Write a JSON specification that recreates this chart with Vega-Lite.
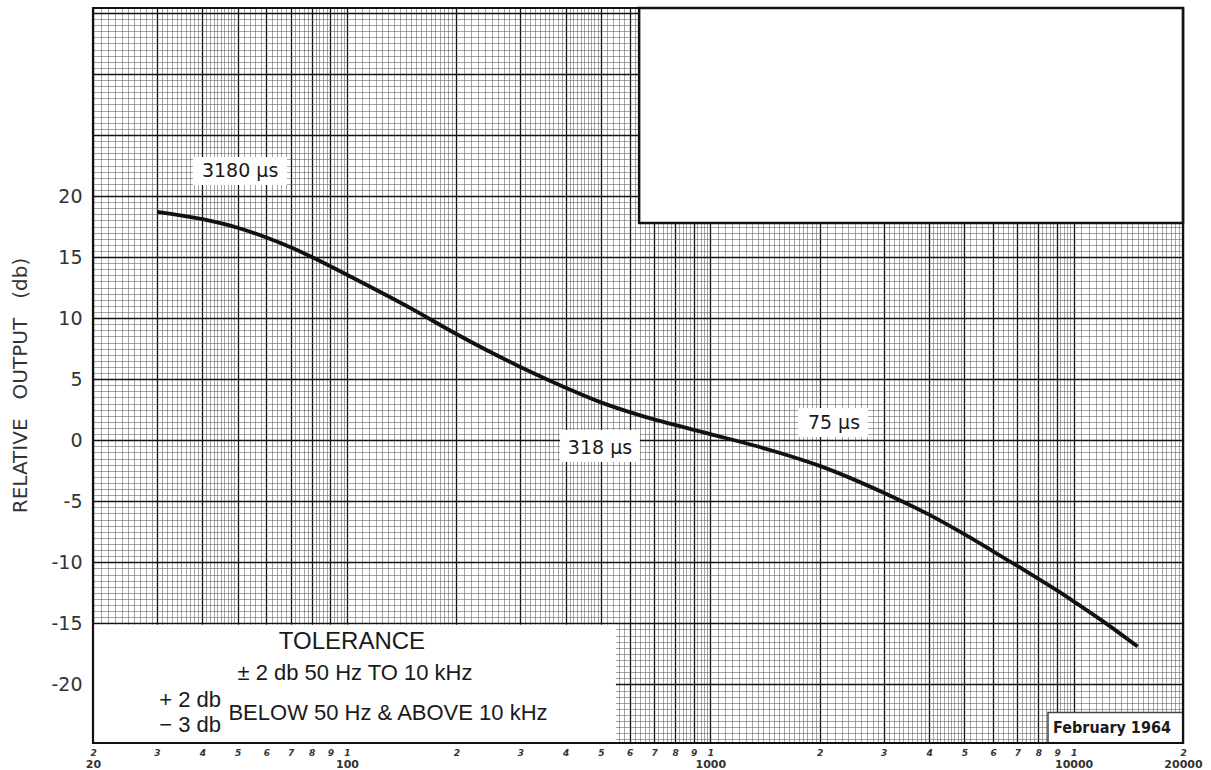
{
  "$schema": "https://vega.github.io/schema/vega-lite/v6.json",
  "width": 1090,
  "height": 735,
  "autosize": "none",
  "padding": {"left": 93, "top": 8, "right": 28, "bottom": 27},
  "background": "#ffffff",
  "config": {"view": {"stroke": null}},
  "datasets": {
    "curve": [
      {"f": 30, "db": 18.7}, {"f": 40, "db": 18.1}, {"f": 50, "db": 17.4}, {"f": 60, "db": 16.6},
      {"f": 70, "db": 15.8}, {"f": 80, "db": 15.0}, {"f": 90, "db": 14.25}, {"f": 100, "db": 13.55},
      {"f": 150, "db": 10.8}, {"f": 200, "db": 8.7}, {"f": 300, "db": 6.0}, {"f": 400, "db": 4.3},
      {"f": 500, "db": 3.1}, {"f": 600, "db": 2.3}, {"f": 700, "db": 1.7}, {"f": 800, "db": 1.25},
      {"f": 900, "db": 0.85}, {"f": 1000, "db": 0.5}, {"f": 1500, "db": -0.9}, {"f": 2000, "db": -2.1},
      {"f": 3000, "db": -4.3}, {"f": 4000, "db": -6.1}, {"f": 5000, "db": -7.7}, {"f": 6000, "db": -9.1},
      {"f": 7000, "db": -10.3}, {"f": 8000, "db": -11.35}, {"f": 9000, "db": -12.3}, {"f": 10000, "db": -13.2},
      {"f": 12000, "db": -14.8}, {"f": 15000, "db": -16.9}
    ],
    "tolbox": [{"f": 20, "f2": 550, "db": -24.8, "db2": -15.12}],
    "topbox": [{"f": 637, "f2": 20000, "db": 17.8, "db2": 35.4}],
    "febbox": [{"f": 8500, "f2": 20000, "db": -24.8, "db2": -22.3}],
    "labelboxes": [
      {"f": 37.7, "f2": 68.4, "db": 20.9, "db2": 23.2},
      {"f": 386, "f2": 640, "db": -1.79, "db2": 0.84},
      {"f": 1743, "f2": 2716, "db": 0.26, "db2": 2.64}
    ],
    "labels": [
      {"f": 50.8, "db": 22.05, "text": "3180 µs"},
      {"f": 497, "db": -0.64, "text": "318 µs"},
      {"f": 2190, "db": 1.41, "text": "75 µs"}
    ],
    "toltitle": [{"f": 103.2, "db": -16.53, "text": "TOLERANCE"}],
    "tolcenter": [
      {"f": 105.2, "db": -19.07, "text": "± 2 db 50 Hz TO 10 kHz"},
      {"f": 129.7, "db": -22.34, "text": "BELOW 50 Hz & ABOVE 10 kHz"}
    ],
    "tolright": [
      {"f": 45, "db": -21.27, "text": "+ 2 db"},
      {"f": 45, "db": -23.32, "text": "− 3 db"}
    ],
    "febtext": [{"f": 12753, "db": -23.57, "text": "February 1964"}],
    "frame": [{"f": 20, "f2": 20000, "db": -24.8, "db2": 35.4}]
  },
  "encoding": {
    "y": {
      "field": "db",
      "type": "quantitative",
      "scale": {"domain": [-24.8, 35.4], "nice": false, "zero": false},
      "axis": {
        "values": [-24.5,-24,-23.5,-23,-22.5,-22,-21.5,-21,-20.5,-20,-19.5,-19,-18.5,-18,-17.5,-17,-16.5,-16,-15.5,-15,-14.5,-14,-13.5,-13,-12.5,-12,-11.5,-11,-10.5,-10,-9.5,-9,-8.5,-8,-7.5,-7,-6.5,-6,-5.5,-5,-4.5,-4,-3.5,-3,-2.5,-2,-1.5,-1,-0.5,0,0.5,1,1.5,2,2.5,3,3.5,4,4.5,5,5.5,6,6.5,7,7.5,8,8.5,9,9.5,10,10.5,11,11.5,12,12.5,13,13.5,14,14.5,15,15.5,16,16.5,17,17.5,18,18.5,19,19.5,20,20.5,21,21.5,22,22.5,23,23.5,24,24.5,25,25.5,26,26.5,27,27.5,28,28.5,29,29.5,30,30.5,31,31.5,32,32.5,33,33.5,34,34.5,35],
        "title": "RELATIVE\u00a0\u00a0\u00a0OUTPUT\u00a0\u00a0\u00a0(db)",
        "titleFont": "DejaVu Sans",
        "titleFontSize": 20,
        "titleFontWeight": "normal",
        "titleColor": "#333333",
        "titleAngle": 270,
        "titleAlign": "center",
        "titleBaseline": "middle",
        "titleX": -73,
        "titleY": 377,
        "labelExpr": "datum.value % 5 === 0 && abs(datum.value) <= 20 ? '' + datum.value : ''",
        "labelFont": "DejaVu Sans",
        "labelFontSize": 19,
        "labelColor": "#333333",
        "labelPadding": 11,
        "labelOverlap": false,
        "labelBound": false,
        "labelFlush": false,
        "ticks": false,
        "domain": false,
        "grid": true,
        "gridColor": {"condition": {"test": "datum.value % 5 === 0", "value": "#111111"}, "value": "#5a5a5a"},
        "gridWidth": {"condition": {"test": "datum.value % 5 === 0", "value": 1.4}, "value": 0.55}
      }
    }
  },
  "layer": [
    {
      "data": {"name": "curve"},
      "mark": {"type": "line", "color": "#111111", "strokeWidth": 3.8, "interpolate": "monotone"},
      "encoding": {
        "x": {
          "field": "f",
          "type": "quantitative",
          "scale": {"type": "log", "domain": [20, 20000], "nice": false},
          "axis": {
            "orient": "bottom",
            "values": [20,21,22,23,24,25,26,27,28,29,30,31,32,33,34,35,36,37,38,39,40,41,42,43,44,45,46,47,48,49,50,52,54,56,58,60,62,64,66,68,70,72,74,76,78,80,82,84,86,88,90,92,94,96,98,100,105,110,115,120,125,130,135,140,145,150,155,160,165,170,175,180,185,190,195,200,210,220,230,240,250,260,270,280,290,300,310,320,330,340,350,360,370,380,390,400,410,420,430,440,450,460,470,480,490,500,520,540,560,580,600,620,640,660,680,700,720,740,760,780,800,820,840,860,880,900,920,940,960,980,1000,1050,1100,1150,1200,1250,1300,1350,1400,1450,1500,1550,1600,1650,1700,1750,1800,1850,1900,1950,2000,2100,2200,2300,2400,2500,2600,2700,2800,2900,3000,3100,3200,3300,3400,3500,3600,3700,3800,3900,4000,4100,4200,4300,4400,4500,4600,4700,4800,4900,5000,5200,5400,5600,5800,6000,6200,6400,6600,6800,7000,7200,7400,7600,7800,8000,8200,8400,8600,8800,9000,9200,9400,9600,9800,10000,10500,11000,11500,12000,12500,13000,13500,14000,14500,15000,15500,16000,16500,17000,17500,18000,18500,19000,19500,20000],
            "title": null,
            "grid": true,
            "gridColor": {"condition": {"test": "abs(datum.value/pow(10,floor(log(datum.value)/LN10+1e-9)) - round(datum.value/pow(10,floor(log(datum.value)/LN10+1e-9)))) < 1e-6", "value": "#111111"}, "value": "#5a5a5a"},
            "gridWidth": {"condition": {"test": "abs(datum.value/pow(10,floor(log(datum.value)/LN10+1e-9)) - round(datum.value/pow(10,floor(log(datum.value)/LN10+1e-9)))) < 1e-6", "value": 1.3}, "value": 0.55},
            "labelExpr": "abs(datum.value/pow(10,floor(log(datum.value)/LN10+1e-9)) - round(datum.value/pow(10,floor(log(datum.value)/LN10+1e-9)))) < 1e-6 ? '' + round(datum.value/pow(10,floor(log(datum.value)/LN10+1e-9))) : ''",
            "labelFont": "DejaVu Sans",
            "labelFontSize": 9,
            "labelFontStyle": "italic",
            "labelFontWeight": "bold",
            "labelColor": "#333333",
            "labelPadding": 5,
            "labelOverlap": false,
            "labelFlush": false,
            "labelBound": false,
            "ticks": false,
            "domain": false
          }
        }
      }
    },
    {
      "data": {"name": "tolbox"},
      "mark": {"type": "rect", "fill": "#ffffff"},
      "encoding": {
        "x": {"field": "f", "type": "quantitative", "scale": {"type": "log", "domain": [20, 20000], "nice": false}, "axis": null},
        "x2": {"field": "f2"},
        "y2": {"field": "db2"}
      }
    },
    {
      "data": {"name": "topbox"},
      "mark": {"type": "rect", "fill": "#ffffff", "stroke": "#111111", "strokeWidth": 2.5},
      "encoding": {
        "x": {"field": "f", "type": "quantitative", "scale": {"type": "log", "domain": [20, 20000], "nice": false}, "axis": null},
        "x2": {"field": "f2"},
        "y2": {"field": "db2"}
      }
    },
    {
      "data": {"name": "febbox"},
      "mark": {"type": "rect", "fill": "#ffffff", "stroke": "#444444", "strokeWidth": 1.5},
      "encoding": {
        "x": {"field": "f", "type": "quantitative", "scale": {"type": "log", "domain": [20, 20000], "nice": false}, "axis": null},
        "x2": {"field": "f2"},
        "y2": {"field": "db2"}
      }
    },
    {
      "data": {"name": "labelboxes"},
      "mark": {"type": "rect", "fill": "#ffffff"},
      "encoding": {
        "x": {"field": "f", "type": "quantitative", "scale": {"type": "log", "domain": [20, 20000], "nice": false}, "axis": null},
        "x2": {"field": "f2"},
        "y2": {"field": "db2"}
      }
    },
    {
      "data": {"name": "labels"},
      "mark": {"type": "text", "font": "DejaVu Sans", "fontSize": 19, "color": "#1a1a1a", "align": "center", "baseline": "middle"},
      "encoding": {
        "x": {"field": "f", "type": "quantitative", "scale": {"type": "log", "domain": [20, 20000], "nice": false}, "axis": null},
        "text": {"field": "text"}
      }
    },
    {
      "data": {"name": "toltitle"},
      "mark": {"type": "text", "font": "Liberation Sans", "fontSize": 24, "color": "#1a1a1a", "align": "center", "baseline": "middle"},
      "encoding": {
        "x": {
          "field": "f",
          "type": "quantitative",
          "scale": {"type": "log", "domain": [20, 20000], "nice": false},
          "axis": {
            "orient": "bottom",
            "values": [20, 100, 1000, 10000, 20000],
            "title": null,
            "grid": false,
            "ticks": false,
            "domain": false,
            "labelExpr": "'' + datum.value",
            "labelFont": "DejaVu Sans",
            "labelFontSize": 11,
            "labelFontWeight": "bold",
            "labelColor": "#333333",
            "labelPadding": 15,
            "labelOverlap": false,
            "labelFlush": false,
            "labelBound": false
          }
        },
        "text": {"field": "text"}
      }
    },
    {
      "data": {"name": "tolcenter"},
      "mark": {"type": "text", "font": "Liberation Sans", "fontSize": 22, "color": "#1a1a1a", "align": "center", "baseline": "middle"},
      "encoding": {
        "x": {"field": "f", "type": "quantitative", "scale": {"type": "log", "domain": [20, 20000], "nice": false}, "axis": null},
        "text": {"field": "text"}
      }
    },
    {
      "data": {"name": "tolright"},
      "mark": {"type": "text", "font": "Liberation Sans", "fontSize": 22, "color": "#1a1a1a", "align": "right", "baseline": "middle"},
      "encoding": {
        "x": {"field": "f", "type": "quantitative", "scale": {"type": "log", "domain": [20, 20000], "nice": false}, "axis": null},
        "text": {"field": "text"}
      }
    },
    {
      "data": {"name": "febtext"},
      "mark": {"type": "text", "font": "'DejaVu Sans Condensed', 'Liberation Sans', sans-serif", "fontSize": 16, "fontWeight": "bold", "color": "#1a1a1a", "align": "center", "baseline": "middle"},
      "encoding": {
        "x": {"field": "f", "type": "quantitative", "scale": {"type": "log", "domain": [20, 20000], "nice": false}, "axis": null},
        "text": {"field": "text"}
      }
    },
    {
      "data": {"name": "frame"},
      "mark": {"type": "rect", "fill": null, "stroke": "#111111", "strokeWidth": 2.2},
      "encoding": {
        "x": {"field": "f", "type": "quantitative", "scale": {"type": "log", "domain": [20, 20000], "nice": false}, "axis": null},
        "x2": {"field": "f2"},
        "y2": {"field": "db2"}
      }
    }
  ],
  "resolve": {"axis": {"x": "independent"}}
}
